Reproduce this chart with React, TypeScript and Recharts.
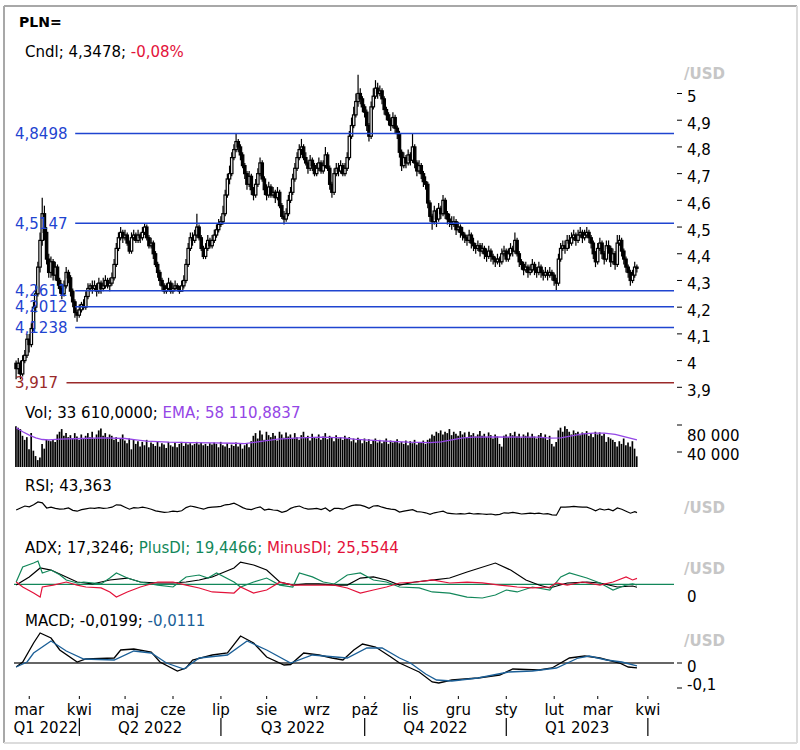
import React from 'react';
import { ComposedChart, Bar, Line, XAxis, YAxis, ReferenceLine } from 'recharts';

const FONT = '"DejaVu Sans", Verdana, sans-serif';
const X_DOMAIN: [number, number] = [-1, 302];

// ---- price (daily, weekday index 0 = 21 Feb 2022) ----
const firstOpen = 3.99;
const closes = [
  3.97,3.99,3.95,4.00,4.02,4.08,4.06,4.12,4.20,4.25,
  4.35,4.45,4.55,4.48,4.38,4.33,4.37,4.32,4.35,4.30,
  4.27,4.25,4.28,4.33,4.31,4.26,4.22,4.18,4.17,4.19,
  4.21,4.20,4.24,4.27,4.28,4.27,4.28,4.26,4.29,4.27,
  4.28,4.30,4.28,4.29,4.31,4.36,4.42,4.46,4.48,4.46,
  4.47,4.44,4.41,4.46,4.47,4.45,4.47,4.46,4.48,4.50,
  4.46,4.43,4.44,4.40,4.36,4.33,4.30,4.28,4.26,4.27,
  4.29,4.26,4.27,4.28,4.27,4.26,4.28,4.30,4.36,4.42,
  4.46,4.45,4.47,4.50,4.46,4.42,4.39,4.42,4.45,4.43,
  4.45,4.47,4.49,4.51,4.52,4.55,4.62,4.68,4.70,4.76,
  4.79,4.82,4.80,4.77,4.73,4.70,4.66,4.69,4.64,4.62,
  4.66,4.70,4.74,4.68,4.64,4.62,4.65,4.62,4.63,4.61,
  4.63,4.58,4.54,4.53,4.55,4.60,4.63,4.68,4.72,4.76,
  4.79,4.80,4.76,4.74,4.72,4.75,4.73,4.70,4.72,4.74,
  4.71,4.73,4.77,4.72,4.66,4.63,4.70,4.72,4.71,4.73,
  4.70,4.72,4.76,4.84,4.88,4.92,4.97,5.00,4.98,4.95,
  4.93,4.88,4.84,4.95,4.99,5.02,5.00,5.01,4.98,4.94,
  4.92,4.90,4.88,4.91,4.87,4.85,4.78,4.73,4.76,4.74,
  4.77,4.75,4.80,4.74,4.71,4.73,4.70,4.67,4.66,4.59,
  4.54,4.52,4.56,4.53,4.57,4.55,4.60,4.55,4.53,4.52,
  4.51,4.52,4.49,4.50,4.48,4.47,4.46,4.45,4.47,4.44,
  4.43,4.42,4.43,4.41,4.42,4.40,4.39,4.41,4.39,4.38,
  4.37,4.38,4.37,4.40,4.41,4.38,4.40,4.42,4.41,4.45,
  4.40,4.37,4.36,4.34,4.35,4.33,4.34,4.36,4.34,4.33,
  4.35,4.33,4.32,4.33,4.32,4.33,4.32,4.30,4.29,4.38,
  4.42,4.43,4.42,4.45,4.44,4.46,4.47,4.45,4.47,4.48,
  4.46,4.47,4.48,4.46,4.44,4.40,4.37,4.42,4.44,4.40,
  4.38,4.43,4.42,4.37,4.40,4.36,4.44,4.45,4.41,4.38,
  4.35,4.33,4.30,4.32,4.35,4.3478,
];
const highs = [
  4.00,4.01,4.00,4.02,4.04,4.10,4.10,4.14,4.22,4.28,
  4.37,4.48,4.61,4.58,4.50,4.40,4.39,4.38,4.37,4.36,
  4.31,4.29,4.30,4.35,4.34,4.32,4.27,4.23,4.19,4.21,
  4.22,4.23,4.26,4.29,4.29,4.30,4.30,4.29,4.31,4.30,
  4.31,4.32,4.31,4.31,4.33,4.38,4.44,4.48,4.50,4.49,
  4.49,4.48,4.45,4.48,4.49,4.48,4.49,4.48,4.50,4.515,
  4.51,4.47,4.46,4.45,4.41,4.37,4.34,4.31,4.29,4.29,
  4.31,4.30,4.29,4.30,4.29,4.28,4.30,4.32,4.38,4.44,
  4.48,4.48,4.49,4.55,4.51,4.47,4.43,4.44,4.47,4.46,
  4.47,4.49,4.51,4.53,4.54,4.58,4.64,4.70,4.73,4.78,
  4.81,4.85,4.83,4.81,4.78,4.74,4.71,4.71,4.70,4.65,
  4.68,4.72,4.76,4.75,4.69,4.66,4.67,4.66,4.65,4.64,
  4.65,4.64,4.59,4.56,4.57,4.62,4.65,4.70,4.74,4.78,
  4.81,4.83,4.81,4.78,4.75,4.77,4.76,4.74,4.74,4.76,
  4.75,4.75,4.80,4.78,4.73,4.67,4.72,4.74,4.74,4.75,
  4.74,4.74,4.78,4.86,4.91,4.95,5.00,5.07,5.02,4.99,
  4.96,4.94,4.89,4.97,5.02,5.05,5.04,5.03,5.02,4.99,
  4.95,4.93,4.91,4.93,4.92,4.88,4.86,4.79,4.78,4.77,
  4.79,4.78,4.85,4.81,4.75,4.75,4.74,4.71,4.69,4.67,
  4.60,4.55,4.58,4.57,4.59,4.58,4.62,4.61,4.56,4.55,
  4.54,4.54,4.53,4.52,4.51,4.50,4.48,4.47,4.49,4.48,
  4.46,4.44,4.45,4.44,4.44,4.43,4.42,4.43,4.42,4.40,
  4.39,4.40,4.39,4.42,4.43,4.42,4.42,4.44,4.43,4.48,
  4.46,4.41,4.38,4.37,4.37,4.36,4.36,4.38,4.37,4.35,
  4.37,4.36,4.34,4.35,4.34,4.35,4.34,4.33,4.31,4.40,
  4.44,4.45,4.45,4.47,4.47,4.48,4.49,4.48,4.49,4.50,
  4.49,4.49,4.50,4.49,4.47,4.45,4.41,4.44,4.46,4.45,
  4.41,4.45,4.45,4.43,4.42,4.41,4.47,4.47,4.46,4.42,
  4.39,4.36,4.34,4.34,4.37,4.36,
];
const lows = [
  3.93,3.95,3.93,3.94,3.99,4.01,4.03,4.05,4.11,4.18,
  4.24,4.33,4.43,4.45,4.36,4.31,4.31,4.30,4.30,4.28,
  4.25,4.23,4.24,4.27,4.29,4.24,4.20,4.16,4.145,4.16,
  4.18,4.19,4.19,4.23,4.26,4.25,4.26,4.24,4.25,4.25,
  4.26,4.27,4.27,4.26,4.28,4.30,4.35,4.41,4.45,4.44,
  4.45,4.43,4.40,4.40,4.45,4.44,4.44,4.44,4.45,4.47,
  4.45,4.42,4.42,4.38,4.35,4.31,4.28,4.26,4.25,4.25,
  4.26,4.25,4.25,4.26,4.26,4.25,4.26,4.27,4.29,4.35,
  4.41,4.43,4.44,4.46,4.45,4.41,4.38,4.38,4.41,4.42,
  4.42,4.44,4.46,4.48,4.50,4.51,4.54,4.61,4.66,4.69,
  4.75,4.78,4.78,4.75,4.72,4.68,4.64,4.65,4.62,4.60,
  4.61,4.65,4.69,4.67,4.62,4.60,4.61,4.61,4.61,4.59,
  4.60,4.57,4.53,4.51,4.52,4.54,4.59,4.62,4.67,4.71,
  4.75,4.77,4.75,4.73,4.70,4.71,4.71,4.69,4.69,4.71,
  4.70,4.70,4.72,4.71,4.64,4.61,4.62,4.69,4.69,4.70,
  4.69,4.69,4.71,4.75,4.83,4.87,4.91,4.95,4.96,4.93,
  4.91,4.86,4.82,4.83,4.94,4.98,4.98,4.99,4.96,4.92,
  4.90,4.88,4.86,4.87,4.85,4.83,4.76,4.71,4.72,4.72,
  4.73,4.73,4.74,4.72,4.69,4.70,4.68,4.65,4.64,4.57,
  4.52,4.49,4.51,4.50,4.52,4.53,4.54,4.53,4.51,4.50,
  4.49,4.50,4.47,4.48,4.46,4.45,4.44,4.43,4.44,4.42,
  4.41,4.40,4.41,4.39,4.40,4.38,4.37,4.38,4.37,4.36,
  4.35,4.36,4.35,4.36,4.39,4.37,4.37,4.39,4.39,4.40,
  4.39,4.35,4.34,4.32,4.33,4.31,4.32,4.33,4.32,4.31,
  4.32,4.31,4.30,4.31,4.30,4.31,4.30,4.28,4.261,4.28,
  4.37,4.41,4.40,4.41,4.42,4.43,4.45,4.43,4.44,4.46,
  4.44,4.45,4.46,4.44,4.42,4.38,4.35,4.36,4.41,4.38,
  4.36,4.37,4.40,4.35,4.36,4.34,4.35,4.43,4.39,4.36,
  4.33,4.31,4.28,4.29,4.31,4.33,
];

// ---- volume (thousands) ----
const volumesK = [
  78,76,74,64,58,62,44,68,42,34,28,32,52,45,
  58,57,56,58,55,66,70,74,64,68,
  62,65,60,68,63,58,66,60,64,
  68,62,70,60,66,72,75,64,68,62,66,
  64,58,62,55,60,66,57,53,60,44,58,
  52,56,48,55,50,58,47,54,52,49,56,48,53,51,46,55,
  50,48,54,47,52,55,49,53,51,
  53,50,52,55,51,54,50,52,49,53,51,54,
  52,47,55,50,48,53,46,51,49,54,48,52,45,50,53,47,56,
  64,68,60,72,66,58,70,65,62,68,64,57,70,66,61,69,63,
  66,60,68,62,58,65,70,61,64,57,67,62,60,66,58,63,68,59,64,61,56,65,60,62,58,64,60,
  62,56,60,54,61,58,53,60,55,59,52,57,60,54,58,53,56,60,52,57,54,55,59,53,
  55,52,57,50,56,53,58,51,55,54,57,52,58,60,66,64,70,68,
  72,66,70,68,74,65,70,67,64,71,66,69,62,70,65,68,63,66,71,64,67,62,69,65,60,66,63,52,
  48,64,66,62,68,65,70,63,67,61,66,64,69,62,67,63,60,65,68,62,66,58,64,52,48,55,
  72,76,70,78,74,70,66,72,68,70,65,69,67,71,64,68,62,
  70,66,69,64,67,55,62,60,58,55,48,56,52,60,50,54,48,56,45,33.61,
];
const emaK: [number, number][] = [
  [0,76],[3,70],[6,65],[9,61],[12,58.5],[15,58],[20,59],[30,60],[40,61],[50,60],[55,58],[60,56],
  [70,54.5],[80,54],[90,53.5],[100,53],[105,52.5],[110,54.5],[115,57],[120,59],[130,61],[140,62],
  [150,61],[155,59],[160,58],[170,56],[180,54.5],[190,54],[195,55],[200,58],[205,61],[210,62],
  [220,62.5],[230,62],[240,62],[245,60.5],[250,61],[255,64],[260,67],[265,68],[270,68],[275,66],
  [280,62],[285,58.11],
];

// ---- RSI ----
const rsiPts: [number, number][] = [
  [0,50],[2,55],[4,60],[6,58],[8,63],[10,70],[12,68],[14,55],[16,57],[18,54],[20,52],[22,53],[24,55],
  [26,49],[28,47],[30,51],[32,53],[34,55],[36,54],[38,56],[40,54],[42,55],[44,57],[46,63],[48,62],
  [50,57],[52,52],[54,56],[56,55],[58,57],[60,55],[62,52],[64,48],[66,46],[68,44],[70,45],[72,47],
  [74,46],[76,48],[78,56],[80,60],[82,58],[84,55],[86,52],[88,56],[90,57],[92,58],[94,59],[96,63],
  [98,64],[100,67],[102,62],[104,56],[106,52],[108,51],[110,55],[112,58],[114,50],[116,52],[118,50],
  [120,49],[122,44],[124,47],[126,54],[128,58],[130,60],[132,55],[134,52],[136,53],[138,54],[140,51],
  [142,55],[144,47],[146,54],[148,54],[150,52],[152,57],[154,61],[156,63],[158,62],[160,59],[162,54],
  [164,60],[166,61],[168,57],[170,54],[172,52],[174,51],[176,45],[178,47],[180,49],[182,51],[184,46],
  [186,45],[188,43],[190,39],[192,43],[194,45],[196,47],[198,42],[200,41],[202,40],[204,41],[206,40],
  [208,42],[210,40],[212,41],[214,40],[216,39],[218,40],[220,38],[222,39],[224,43],[226,42],[228,44],
  [230,42],[232,40],[234,41],[236,42],[238,41],[240,42],[242,40],[244,41],[246,38],[248,37],[250,57],
  [252,57],[254,58],[256,59],[258,58],[260,57],[262,57],[264,53],[266,48],[268,53],[270,50],[272,52],
  [274,48],[276,55],[278,52],[280,47],[282,42],[284,46],[285,43.363],
];

// ---- ADX / +DI / -DI ----
const adxPts: [number, number][] = [
  [0,19.4],[6,26.9],[11,35.2],[16,33.3],[23,26.9],[28,22.2],[35,20.4],[43,24.1],[51,25.9],[57,22.2],
  [65,21.3],[72,21.3],[78,22.2],[84,24.1],[90,26.9],[100,35.2],[103,40.7],[109,38],[115,33.3],
  [121,22.2],[127,19.4],[133,20.4],[139,20.4],[146,19.4],[152,19.4],[158,25.9],[164,26.9],[170,24.1],
  [176,19.4],[183,22.2],[191,24],[199,25.9],[207,31.5],[220,39.8],[227,33.3],[234,24.1],[240,19.4],
  [245,16.7],[253,21.3],[262,22.2],[268,21.3],[276,17.6],[283,18.5],[285,17.3246],
];
const plusDiPts: [number, number][] = [
  [0,22.2],[3,36.1],[8,39.8],[10,41.7],[12,30.6],[16,33.3],[20,29],[23,24.1],[28,21.3],[31,22.2],
  [39,20.4],[43,25.9],[46,30.6],[51,25.9],[57,22.2],[65,19.4],[72,17.6],[78,26.9],[84,28.7],[88,25.9],
  [92,30.6],[100,22.2],[103,17.6],[109,22.2],[115,25.9],[121,19.4],[127,17.6],[130,30.6],[136,27],
  [141,22.2],[146,20.4],[152,28.7],[158,30.6],[164,24.1],[170,22.2],[176,17.6],[185,16.7],[191,13],
  [199,12],[207,8.3],[214,7.4],[220,10.2],[225,14.8],[230,13],[237,17.6],[245,14.8],[250,26.9],
  [254,30.6],[262,25.9],[268,21.3],[274,14.8],[280,19.4],[283,20.4],[285,19.4466],
];
const minusDiPts: [number, number][] = [
  [0,22.2],[3,17.6],[8,12],[11,8.3],[12,17.6],[17,19.4],[23,22.2],[28,19.4],[32,17.6],[39,16.7],
  [43,13],[46,8.3],[51,13],[57,17.6],[65,22.2],[72,22.2],[78,19.4],[84,16.7],[90,13],[100,12],
  [103,17.6],[109,12],[115,14.8],[121,22],[127,19.4],[133,19.4],[139,19.4],[146,19.4],[152,16.7],
  [158,12],[164,14.8],[170,17.6],[176,21.3],[184,22.2],[191,24.1],[199,21.3],[207,22.2],[214,21.5],
  [222,19.4],[230,17.6],[237,16.7],[245,17.6],[248,21.3],[253,19.4],[260,22.2],[268,19.4],[274,22.2],
  [280,26.9],[283,24.1],[285,25.5544],
];

// ---- MACD ----
const macdPts: [number, number][] = [
  [0,-0.016],[3,0.004],[8,0.08],[11,0.12],[16,0.10],[20,0.052],[28,0.004],[32,0.016],[45,0.02],
  [48,0.052],[54,0.056],[62,0.044],[66,0.004],[74,-0.032],[78,-0.02],[81,0.012],[90,0.032],[97,0.04],
  [103,0.108],[109,0.08],[115,0.024],[123,-0.008],[126,-0.006],[132,0.04],[139,0.032],[145,0.02],
  [150,0.012],[155,0.052],[159,0.076],[165,0.064],[172,0.024],[176,0],[181,-0.02],[185,-0.036],
  [191,-0.076],[194,-0.08],[200,-0.068],[212,-0.06],[222,-0.048],[228,-0.024],[240,-0.028],
  [246,-0.02],[254,0.02],[261,0.028],[268,0.02],[277,0],[281,-0.016],[285,-0.0199],
];
const signalPts: [number, number][] = [
  [0,-0.016],[5,0.004],[8,0.04],[16,0.088],[23,0.048],[31,0.016],[45,0.012],[54,0.048],[62,0.04],
  [69,0],[77,-0.024],[84,0.02],[97,0.032],[106,0.088],[115,0.052],[126,0],[136,0.032],[152,0.02],
  [161,0.06],[168,0.06],[176,0.02],[181,0],[188,-0.044],[193,-0.068],[200,-0.072],[212,-0.06],
  [226,-0.036],[237,-0.032],[248,-0.02],[258,0.02],[263,0.028],[271,0.012],[278,0.004],[285,-0.0111],
];

// ---- levels & ticks ----
const levelValues = [4.8498, 4.5147, 4.2611, 4.2012, 4.1238, 3.917];
const levelLabels = ['4,8498', '4,5147', '4,2611', '4,2012', '4,1238', '3,917'];
const priceTicks = [5, 4.9, 4.8, 4.7, 4.6, 4.5, 4.4, 4.3, 4.2, 4.1, 4, 3.9];
const volTicks = [40000, 80000];
const volTickLabels = ['40 000', '80 000'];
const macdTicks = [0, -0.1];
const monthIdx = [6, 29, 50, 72, 94, 115, 138, 160, 181, 203, 225, 247, 267, 290];
const monthLabels = ['mar', 'kwi', 'maj', 'cze', 'lip', 'sie', 'wrz', 'paź', 'lis', 'gru', 'sty', 'lut', 'mar', 'kwi'];
const quarterBoundIdx = [29, 94, 160, 225, 290];
const quarterCenterIdx = [13.5, 61.5, 127, 192.5, 257.5];
const quarterLabels = ['Q1 2022', 'Q2 2022', 'Q3 2022', 'Q4 2022', 'Q1 2023'];

const BLUE = '#1f44d0';
const DARKRED = '#9a2a2a';
const RED = '#e3123a';
const GREEN = '#12875a';
const PURPLE = '#9446e6';
const MACD_BLUE = '#1b5f97';
const GRAY = '#c6c6c6';

const candleData = closes.map((c, i) => ({
  i,
  o: i === 0 ? firstOpen : closes[i - 1],
  h: highs[i],
  l: lows[i],
  c,
  range: [lows[i], highs[i]],
}));
const volData = volumesK.map((v, i) => ({ i, v: v * 1000 }));
const toPts = (arr: [number, number][], k = 1) => arr.map(([i, v]) => ({ i, v: v * k }));

const Candle = (props: any) => {
  const { x, y, width, height, payload } = props;
  if (!payload || x == null || y == null) return null;
  const { o, h, l, c } = payload;
  const top = Math.min(y, y + height);
  const hgt = Math.abs(height);
  const span = h - l || 1e-9;
  const py = (v: number) => top + ((h - v) / span) * hgt;
  const cx = x + width / 2;
  const up = c >= o;
  const y1 = py(Math.max(o, c));
  const y2 = py(Math.min(o, c));
  const bw = 2.4;
  return (
    <g>
      <line x1={cx} x2={cx} y1={top} y2={top + hgt} stroke="#000" strokeWidth={1.2} />
      <rect x={cx - bw / 2} y={y1} width={bw} height={Math.max(y2 - y1, 1.2)} fill={up ? '#fff' : '#000'} stroke="#000" strokeWidth={1.2} />
    </g>
  );
};

const makeLevelShape = (label: string, lineColor: string, textColor: string) => (props: any) => {
  const { x1, x2, y1 } = props;
  if (x1 == null || x2 == null) return null;
  const left = Math.min(x1, x2);
  const right = Math.max(x1, x2);
  const start = left + label.length * 8.7 + 9;
  return (
    <g>
      <text x={left + 1} y={y1 + 5.5} fill={textColor} fontSize={15} fontFamily={FONT}>{label}</text>
      <line x1={start} x2={right} y1={y1} y2={y1} stroke={lineColor} strokeWidth={1.5} />
    </g>
  );
};

const PriceTick = (props: any) => {
  const { x, y, payload } = props;
  return (
    <g>
      <line x1={x + 3} x2={x + 8} y1={y} y2={y} stroke="#000" strokeWidth={1} />
      <text x={x + 13} y={y + 8.5} fontSize={15} fontFamily={FONT} fill="#000">{String(payload.value).replace('.', ',')}</text>
    </g>
  );
};

const VolTick = (props: any) => {
  const { x, y, payload } = props;
  const k = volTicks.indexOf(payload.value);
  const dy = payload.value === 80000 ? 16 : 8;
  return (
    <g>
      <line x1={x + 3} x2={x + 8} y1={y} y2={y} stroke="#000" strokeWidth={1} />
      <text x={x + 13} y={y + dy} fontSize={15} fontFamily={FONT} fill="#000">{volTickLabels[k]}</text>
    </g>
  );
};

const MacdTick = (props: any) => {
  const { x, y, payload } = props;
  const dy = payload.value === 0 ? 8.5 : 1.5;
  return (
    <g>
      <line x1={x + 3} x2={x + 8} y1={y} y2={y} stroke="#000" strokeWidth={1} />
      <text x={x + 13} y={y + dy} fontSize={15} fontFamily={FONT} fill="#000">{String(payload.value).replace('.', ',')}</text>
    </g>
  );
};

const AdxTick = (props: any) => {
  const { x, y, payload } = props;
  return (
    <text x={x + 13} y={y - 4} fontSize={15} fontFamily={FONT} fill="#000">{String(payload.value)}</text>
  );
};

const TimeTick = (props: any) => {
  const { x, y, payload } = props;
  const v = payload.value;
  const m = monthIdx.indexOf(v);
  const qb = quarterBoundIdx.indexOf(v);
  const qc = quarterCenterIdx.indexOf(v);
  return (
    <g>
      {m >= 0 && (
        <g>
          <line x1={x} x2={x} y1={y + 3} y2={y + 6} stroke="#000" strokeWidth={1} />
          <text x={x} y={y + 22} textAnchor="middle" fontSize={15} fontFamily={FONT} fill="#000">{monthLabels[m]}</text>
        </g>
      )}
      {qb >= 0 && <line x1={x} x2={x} y1={y + 25} y2={y + 43} stroke="#000" strokeWidth={1.2} />}
      {qc >= 0 && (
        <text x={x} y={y + 40} textAnchor="middle" fontSize={15} fontFamily={FONT} fill="#000">{quarterLabels[qc]}</text>
      )}
    </g>
  );
};

const timeTicks = [...monthIdx, ...quarterCenterIdx].filter((v, i, a) => a.indexOf(v) === i).sort((a, b) => a - b);

const abs = (top: number): React.CSSProperties => ({ position: 'absolute', left: 0, top });

export default function App() {
  return (
    <div style={{ position: 'absolute', left: 0, top: 0, width: 800, height: 750, background: '#fff', fontFamily: FONT }}>
      {/* price */}
      <div style={abs(0)}>
        <ComposedChart width={800} height={400} data={candleData} margin={{ top: 70, right: 0, bottom: 5, left: 14 }}>
          <XAxis type="number" dataKey="i" domain={X_DOMAIN} allowDataOverflow hide />
          <YAxis orientation="right" width={126} type="number" domain={[3.8712, 5.088]} allowDataOverflow ticks={priceTicks} interval={0}
            tickLine={false} axisLine={false} tickSize={0} tickMargin={0} tick={<PriceTick />} />
          {levelValues.map((v, k) => (
            <ReferenceLine key={k} y={v} ifOverflow="visible"
              shape={makeLevelShape(levelLabels[k], k === 5 ? DARKRED : BLUE, k === 5 ? DARKRED : BLUE)} />
          ))}
          <Bar dataKey="range" shape={(p: any) => <Candle {...p} />} barSize={2} isAnimationActive={false} />
        </ComposedChart>
      </div>
      {/* volume */}
      <div style={abs(400)}>
        <ComposedChart width={800} height={80} data={volData} margin={{ top: 19, right: 0, bottom: 13, left: 14 }}>
          <XAxis type="number" dataKey="i" domain={X_DOMAIN} allowDataOverflow hide />
          <YAxis orientation="right" width={126} type="number" domain={[17800, 88900]} allowDataOverflow ticks={volTicks} interval={0}
            tickLine={false} axisLine={false} tickSize={0} tickMargin={0} tick={<VolTick />} />
          <Bar dataKey="v" fill="#000" barSize={1.7} isAnimationActive={false} />
          <Line data={toPts(emaK, 1000)} dataKey="v" stroke={PURPLE} strokeWidth={1.3} dot={false} isAnimationActive={false} />
        </ComposedChart>
      </div>
      {/* RSI */}
      <div style={abs(480)}>
        <ComposedChart width={800} height={60} margin={{ top: 10, right: 126, bottom: 10, left: 14 }}>
          <XAxis type="number" dataKey="i" domain={X_DOMAIN} allowDataOverflow hide />
          <YAxis type="number" domain={[0, 100]} allowDataOverflow hide />
          <Line data={toPts(rsiPts)} dataKey="v" stroke="#000" strokeWidth={1.2} dot={false} isAnimationActive={false} />
        </ComposedChart>
      </div>
      {/* ADX */}
      <div style={abs(540)}>
        <ComposedChart width={800} height={70} margin={{ top: 16, right: 0, bottom: 4, left: 14 }}>
          <XAxis type="number" dataKey="i" domain={X_DOMAIN} allowDataOverflow hide />
          <YAxis orientation="right" width={126} type="number" domain={[0, 46.3]} allowDataOverflow ticks={[0]} interval={0}
            tickLine={false} axisLine={false} tickSize={0} tickMargin={0} tick={<AdxTick />} />
          <ReferenceLine y={20} stroke={GREEN} strokeWidth={1.4} />
          <Line data={toPts(adxPts)} dataKey="v" stroke="#000" strokeWidth={1.2} dot={false} isAnimationActive={false} />
          <Line data={toPts(plusDiPts)} dataKey="v" stroke={GREEN} strokeWidth={1.2} dot={false} isAnimationActive={false} />
          <Line data={toPts(minusDiPts)} dataKey="v" stroke={RED} strokeWidth={1.2} dot={false} isAnimationActive={false} />
        </ComposedChart>
      </div>
      {/* MACD + time axis */}
      <div style={abs(600)}>
        <ComposedChart width={800} height={150} margin={{ top: 28, right: 0, bottom: 13, left: 14 }}>
          <XAxis type="number" dataKey="i" domain={X_DOMAIN} allowDataOverflow ticks={timeTicks} interval={0}
            tickLine={false} axisLine={false} tickSize={0} tickMargin={0} height={44} tick={<TimeTick />} />
          <YAxis orientation="right" width={126} type="number" domain={[-0.12, 0.14]} allowDataOverflow ticks={macdTicks} interval={0}
            tickLine={false} axisLine={false} tickSize={0} tickMargin={0} tick={<MacdTick />} />
          <ReferenceLine y={0} stroke="#333" strokeWidth={1.5} />
          <Line data={toPts(macdPts)} dataKey="v" stroke="#000" strokeWidth={1.3} dot={false} isAnimationActive={false} />
          <Line data={toPts(signalPts)} dataKey="v" stroke={MACD_BLUE} strokeWidth={1.3} dot={false} isAnimationActive={false} />
        </ComposedChart>
      </div>
      {/* texts & frame */}
      <svg width={800} height={750} style={{ position: 'absolute', left: 0, top: 0, pointerEvents: 'none' }} fontFamily={FONT}>
        <line x1={4} y1={6} x2={797} y2={6} stroke="#a8a8a8" strokeWidth={2} />
        <line x1={4} y1={6} x2={4} y2={743} stroke="#a8a8a8" strokeWidth={2} />
        <line x1={4} y1={743} x2={797} y2={743} stroke="#dcdcdc" strokeWidth={2} />
        <line x1={797} y1={6} x2={797} y2={743} stroke="#dcdcdc" strokeWidth={2} />
        <text x={19} y={27} fontSize={14} fontWeight="bold" fill="#000">PLN=</text>
        <text x={25} y={57} fontSize={15} fill="#000">Cndl; 4,3478; <tspan fill={RED}>-0,08%</tspan></text>
        <text x={684} y={79} fontSize={15} fontWeight="bold" fill={GRAY}>/USD</text>
        <text x={25} y={418} fontSize={15} fill="#000">Vol; 33 610,0000; <tspan fill={PURPLE}>EMA; 58 110,8837</tspan></text>
        <text x={25} y={491} fontSize={15} fill="#000">RSI; 43,363</text>
        <text x={684} y={513} fontSize={15} fontWeight="bold" fill={GRAY}>/USD</text>
        <text x={25} y={553} fontSize={15} fill="#000">ADX; 17,3246; <tspan fill={GREEN}>PlusDI; 19,4466; </tspan><tspan fill={RED}>MinusDI; 25,5544</tspan></text>
        <text x={684} y={574} fontSize={15} fontWeight="bold" fill={GRAY}>/USD</text>
        <text x={25} y={626} fontSize={15} fill="#000">MACD; -0,0199; <tspan fill={MACD_BLUE}>-0,0111</tspan></text>
        <text x={684} y={646} fontSize={15} fontWeight="bold" fill={GRAY}>/USD</text>
      </svg>
    </div>
  );
}
